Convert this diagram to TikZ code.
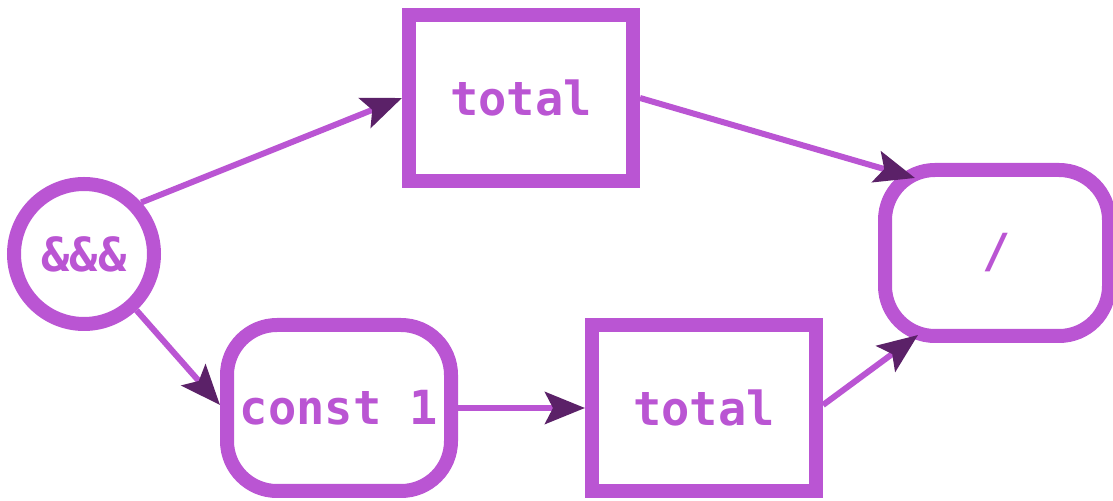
\documentclass[tikz,border=0pt]{standalone}
\usepackage{fontspec}
\setmonofont{DejaVu Sans Mono}
\usetikzlibrary{arrows.meta,shapes.geometric}
\definecolor{orch}{HTML}{BA55D3}
\definecolor{tipc}{HTML}{5B2168}
\tikzset{
  base/.style={draw=orch, line width=7pt, text=orch, font=\ttfamily\bfseries\fontsize{23.5}{28}\selectfont, inner sep=0pt},
  sq/.style={base, rectangle, minimum width=112pt, minimum height=83pt},
  rnd/.style={base, rectangle, rounded corners=25pt, minimum width=112pt, minimum height=83pt},
  circ/.style={base, circle, minimum size=70pt},
  conn/.style={draw=orch, line width=3pt, -{Stealth[length=20pt,width=16pt,inset=4pt,fill=tipc,color=tipc]}}
}
\begin{document}
\begin{tikzpicture}[x=0.5pt,y=-0.5pt]
\useasboundingbox (0,0) rectangle (1113,501);
\node[circ] (amp) at (84,254) {\&\&\&};
\node[sq] (t1) at (521,98) {total};
\node[rnd] (c1) at (339,408) {const 1};
\node[sq] (t2) at (704,408) {total};
\node[rnd] (div) at (997,253) {/};
\draw[conn] (amp.42) -- (t1.west);
\draw[conn] (amp.-47) -- ([yshift=1.5pt]c1.west);
\draw[conn] (c1.east) -- (t2.west);
\draw[conn] (t1.east) -- ([shift={(-41pt,37.5pt)}]div.center);
\draw[conn] ([yshift=1.5pt]t2.east) -- ([shift={(-39.5pt,-41pt)}]div.center);
\end{tikzpicture}
\end{document}
